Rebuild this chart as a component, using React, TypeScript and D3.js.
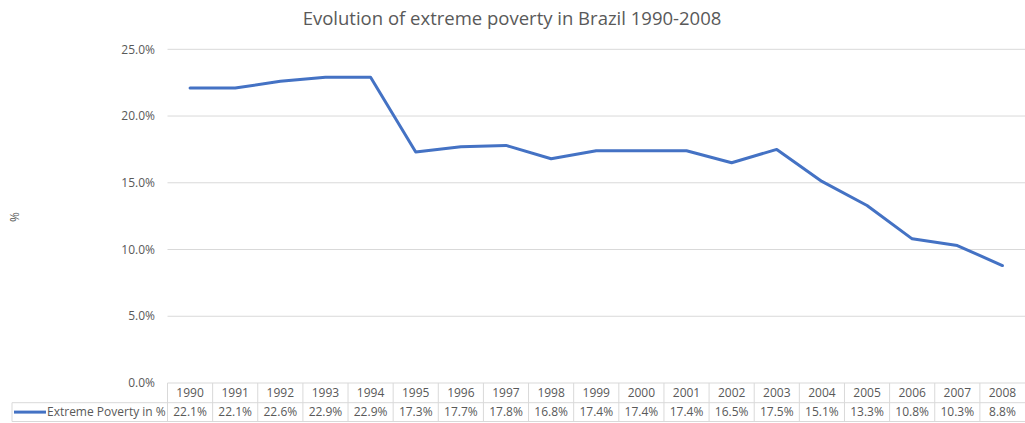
import React from "react";
import * as d3 from "d3";

const years = ["1990","1991","1992","1993","1994","1995","1996","1997","1998","1999","2000","2001","2002","2003","2004","2005","2006","2007","2008"];
const poverty = [22.1, 22.1, 22.6, 22.9, 22.9, 17.3, 17.7, 17.8, 16.8, 17.4, 17.4, 17.4, 16.5, 17.5, 15.1, 13.3, 10.8, 10.3, 8.8];
const yTicks = [0, 5, 10, 15, 20, 25];
const seriesName = "Extreme Poverty in %";
const title = "Evolution of extreme poverty in Brazil 1990-2008";

const W = 1025;
const H = 423;
const FONT = "'Open Sans', 'Noto Sans', sans-serif";
const TEXT = "#595959";
const GRID = "#d9d9d9";
const LINE = "#4472C4";

export default function App() {
  const x = d3.scaleBand<string>().domain(years).range([167.5, 1025]);
  const y = d3.scaleLinear().domain([0, 25]).range([383, 49.3]);
  const line = d3
    .line<number>()
    .x((_, i) => (x(years[i]) as number) + x.bandwidth() / 2)
    .y((d) => y(d));

  const rowTop = y(0);
  const rowMid = 402.7;
  const rowBot = 421.5;
  const legendLeft = 12;
  const plotLeft = x.range()[0];

  return (
    <svg
      width={W}
      height={H}
      style={{ position: "absolute", left: 0, top: 0, display: "block", background: "#fff" }}
      fontFamily={FONT}
    >
      <rect width={W} height={H} fill="#fff" />
      <text x={512} y={25} textAnchor="middle" fontSize={18.5} fill={TEXT}>
        {title}
      </text>
      <text
        transform={`translate(19,217) rotate(-90)`}
        textAnchor="middle"
        fontSize={12}
        fill={TEXT}
      >
        %
      </text>

      {yTicks.map((t) => (
        <g key={t}>
          {t > 0 && (
            <line x1={plotLeft} x2={W} y1={y(t)} y2={y(t)} stroke={GRID} strokeWidth={1} />
          )}
          <text x={155} y={y(t)} dy="0.35em" textAnchor="end" fontSize={12} fill={TEXT}>
            {d3.format(".1f")(t) + "%"}
          </text>
        </g>
      ))}

      {/* data table grid */}
      <g stroke={GRID} strokeWidth={1} fill="none">
        <line x1={plotLeft} x2={W} y1={rowTop} y2={rowTop} />
        <line x1={legendLeft} x2={W} y1={rowMid} y2={rowMid} />
        <line x1={legendLeft} x2={W} y1={rowBot} y2={rowBot} />
        <line x1={legendLeft} x2={legendLeft} y1={rowMid} y2={rowBot} />
        {years.map((yr) => (
          <line key={yr} x1={x(yr) as number} x2={x(yr) as number} y1={rowTop} y2={rowBot} />
        ))}
      </g>

      {years.map((yr, i) => {
        const cx = (x(yr) as number) + x.bandwidth() / 2;
        return (
          <g key={yr} fontSize={12} fill={TEXT} textAnchor="middle">
            <text x={cx} y={(rowTop + rowMid) / 2} dy="0.35em">
              {yr}
            </text>
            <text x={cx} y={(rowMid + rowBot) / 2} dy="0.35em">
              {d3.format(".1f")(poverty[i]) + "%"}
            </text>
          </g>
        );
      })}

      <line
        x1={14}
        x2={46}
        y1={(rowMid + rowBot) / 2}
        y2={(rowMid + rowBot) / 2}
        stroke={LINE}
        strokeWidth={3}
      />
      <text x={47} y={(rowMid + rowBot) / 2} dy="0.35em" fontSize={12} fill={TEXT}>
        {seriesName}
      </text>

      <path
        d={line(poverty) || ""}
        fill="none"
        stroke={LINE}
        strokeWidth={3}
        strokeLinejoin="round"
        strokeLinecap="round"
      />
    </svg>
  );
}
